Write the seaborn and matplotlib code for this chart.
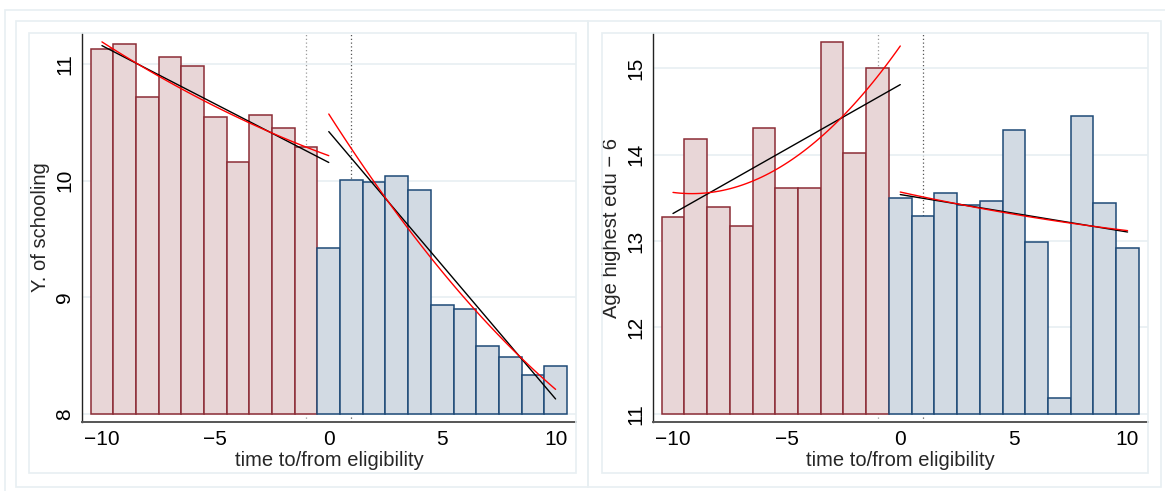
import numpy as np
import pandas as pd
import matplotlib
matplotlib.use("Agg")
import matplotlib.pyplot as plt
from matplotlib.patches import Rectangle
import seaborn as sns

# bar values (time to/from eligibility -10..10)
t_before = [-10, -9, -8, -7, -6, -5, -4, -3, -2, -1]
t_after = [0, 1, 2, 3, 4, 5, 6, 7, 8, 9, 10]

school_before = [11.13, 11.17, 10.72, 11.06, 10.98, 10.55, 10.16, 10.56, 10.45, 10.29]
school_after = [9.42, 10.01, 9.99, 10.04, 9.92, 8.93, 8.90, 8.58, 8.49, 8.33, 8.41]

agedu_before = [13.28, 14.18, 13.40, 13.17, 14.31, 13.62, 13.61, 15.31, 14.02, 15.01]
agedu_after = [13.50, 13.29, 13.56, 13.42, 13.46, 14.29, 12.99, 11.18, 14.45, 13.44, 12.92]

xticks = [-10, -5, 0, 5, 10]
W, H = 1165, 491

sns.set_theme(style="white")
plt.rcParams['font.family'] = ['Liberation Sans', 'DejaVu Sans']
plt.rcParams['axes.unicode_minus'] = True

red_fill, red_edge = '#E8D6D7', '#8C2C36'
blue_fill, blue_edge = '#D2DAE3', '#1E4A77'
frame_col = '#E8EFF2'

fig = plt.figure(figsize=(W / 100, H / 100), dpi=100)


def px_rect(x0, y0, x1, y1):
    # rectangle given in pixel coords from the top-left corner
    fig.patches.append(Rectangle((x0 / W, 1 - y1 / H), (x1 - x0) / W, (y1 - y0) / H,
                                 transform=fig.transFigure, fill=False,
                                 edgecolor=frame_col, lw=1.2, zorder=0))


px_rect(5, 10, 1175, 500)
px_rect(16, 21, 588, 487)
px_rect(588, 21, 1161, 487)
px_rect(29, 33, 576, 473)
px_rect(602, 33, 1148, 473)


def panel(ax, yb, ya, base, ylim, yticks, ylabel):
    df_b = pd.DataFrame({'t': t_before, 'y': yb})
    df_a = pd.DataFrame({'t': t_after, 'y': ya})
    ax.axvline(-1, color='#9a9a9a', ls=(0, (1, 2)), lw=0.9, zorder=0.5)
    ax.axvline(1, color='#555555', ls=(0, (1, 2)), lw=0.9, zorder=0.5)
    sns.barplot(data=df_b, x='t', y='y', native_scale=True, width=1, color=red_fill,
                saturation=1, edgecolor=red_edge, linewidth=1.1, errorbar=None, ax=ax)
    sns.barplot(data=df_a, x='t', y='y', native_scale=True, width=1, color=blue_fill,
                saturation=1, edgecolor=blue_edge, linewidth=1.1, errorbar=None, ax=ax)
    # bars start at the bottom tick value, not at zero
    for p in ax.patches:
        h = p.get_height()
        p.set_y(base)
        p.set_height(h - base)
        p.set_zorder(1)

    # linear (black) and quadratic (red) fits on each side; the bar at 0 is left out
    tb, yb_ = np.array(t_before), np.array(yb)
    ta, ya_ = np.array(t_after), np.array(ya)
    keep = ta >= 1
    gl = np.linspace(-10, 0, 60)
    gr = np.linspace(0, 10, 60)
    for order, col in [(1, 'black'), (2, '#FF0000')]:
        cl = np.polyfit(tb, yb_, order)
        cr = np.polyfit(ta[keep], ya_[keep], order)
        sns.lineplot(x=gl, y=np.polyval(cl, gl), color=col, lw=1.0, ax=ax, zorder=3)
        sns.lineplot(x=gr, y=np.polyval(cr, gr), color=col, lw=1.0, ax=ax, zorder=3)

    ax.set_xlim(-10.88, 10.9)
    ax.set_ylim(*ylim)
    ax.set_xticks(xticks)
    ax.set_yticks(yticks)
    ax.yaxis.grid(True, color=frame_col, lw=1.2)
    ax.set_axisbelow(True)
    for s in ['top', 'right']:
        ax.spines[s].set_visible(False)
    ax.spines['left'].set_color('#222222')
    ax.spines['left'].set_linewidth(1.0)
    ax.spines['bottom'].set_color('#555555')
    ax.spines['bottom'].set_linewidth(1.4)
    ax.tick_params(axis='both', direction='out', length=4, width=1.0, color='#222222',
                   labelsize=15, colors='black')
    ax.tick_params(axis='x', pad=1.5)
    ax.tick_params(axis='y', pad=1.5, labelrotation=90)
    for lab in ax.get_yticklabels():
        lab.set_va('center')
    ax.set_xlabel('time to/from eligibility', fontsize=14.5, labelpad=2)
    ax.set_ylabel(ylabel, fontsize=14.5)
    ax.yaxis.set_label_coords(-32 / 494, 0.5)


ax1 = fig.add_axes([82 / W, 1 - 422 / H, (576 - 82) / W, (422 - 33) / H])
ax2 = fig.add_axes([653 / W, 1 - 422 / H, (1148 - 653) / W, (422 - 33) / H])
ax1.patch.set_alpha(0)
ax2.patch.set_alpha(0)

panel(ax1, school_before, school_after, 8, (7.931, 11.266), [8, 9, 10, 11], 'Y. of schooling')
panel(ax2, agedu_before, agedu_after, 11, (10.904, 15.41), [11, 12, 13, 14, 15], 'Age highest edu \u2212 6')

fig.savefig('out.png', dpi=100)
